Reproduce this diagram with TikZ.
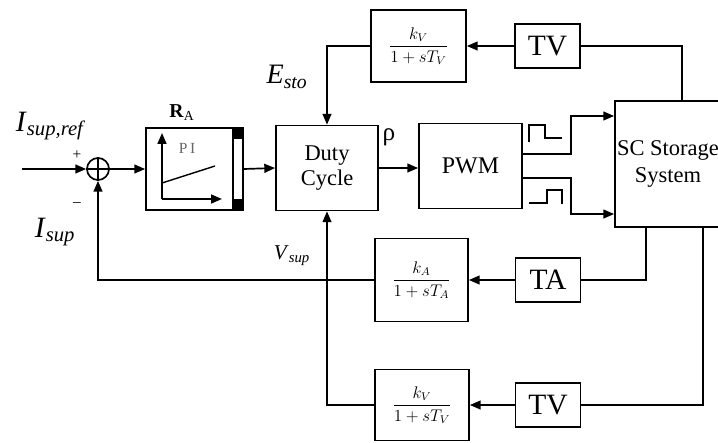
\documentclass[tikz,border=0pt]{standalone}
\usepackage{amsmath}
\usepackage{fontspec}
\setmainfont{Liberation Serif}
\usetikzlibrary{arrows.meta}

\tikzset{
  blk/.style={draw, line width=1.2pt, inner sep=0pt, align=center},
  frac/.style={blk, font=\fontsize{12}{14}\selectfont},
  meas/.style={blk, font=\fontsize{21}{24}\selectfont, minimum width=1.63cm, minimum height=1.1cm},
  lbl/.style={inner sep=0pt},
}

\begin{document}
\begin{tikzpicture}[x=0.025cm,y=-0.025cm,line width=1.2pt,>={Triangle[length=0.27cm,width=0.22cm]}]
\useasboundingbox (0,0) rectangle (718,442);

% forward path
\coordinate (in) at (22,169);
\node[draw,circle,minimum size=0.55cm,inner sep=0pt] (sum) at (98,169) {};
\draw[line width=1pt] (sum.north) -- (sum.south) (sum.west) -- (sum.east);
\node[blk,minimum width=2.425cm,minimum height=2.05cm] (PI) at (194.5,169) {};
\node[blk,minimum width=2.55cm,minimum height=2.125cm,font=\fontsize{16}{18}\selectfont] (Duty) at (327,168) {Duty\\Cycle};
\node[blk,minimum width=2.575cm,minimum height=2.125cm,font=\fontsize{17}{19}\selectfont] (PWM) at (470.5,166) {PWM};
\node[blk,minimum width=2.65cm,minimum height=3.15cm,font=\fontsize{16}{19}\selectfont] (SC) at (668,164) {SC Storage\\System};

% feedback blocks
\node[frac,minimum width=2.375cm,minimum height=1.8cm] (kVt) at (418.5,46) {$\dfrac{k_V}{1+sT_V}$};
\node[meas] (TVt) at (547.5,46) {TV};
\node[frac,minimum width=2.325cm,minimum height=2.075cm] (kA) at (421.5,280) {$\dfrac{k_A}{1+sT_A}$};
\node[meas] (TA) at (548,280) {TA};
\node[frac,minimum width=2.35cm,minimum height=1.775cm] (kVb) at (422,405) {$\dfrac{k_V}{1+sT_V}$};
\node[meas] (TVb) at (548,405) {TV};

% PI sketch
\draw (233,128) -- (233,210);
\fill (233,128) rectangle (243,139);
\fill (233,199) rectangle (243,210);
\draw[->] (162,199) -- (162,133);
\draw[->] (162,199) -- (222,199);
\draw[line width=1pt] (162,183) -- (215,166);
\node[lbl,text=black!60,font=\fontsize{11}{13}\selectfont] (PIlbl) at (187,148) {P\,I};

% labels
\node[lbl,font=\fontsize{14}{16}\selectfont] (RA) at (182,113) {\textbf{R}\textsubscript{A}};
\node[lbl,font=\fontsize{21}{23}\selectfont] (Iref) at (51,126) {\textit{I}\textsubscript{\textit{sup,ref}}};
\node[lbl,font=\fontsize{21}{23}\selectfont] (Isup) at (55,232) {\textit{I}\textsubscript{\textit{sup}}};
\node[lbl,font=\fontsize{11}{13}\selectfont] (plus) at (77,155) {+};
\node[lbl,font=\fontsize{11}{13}\selectfont] (minus) at (77,205) {--};
\node[lbl,font=\fontsize{20}{22}\selectfont] (Esto) at (287,77) {\textit{E}\textsubscript{\textit{sto}}};
\node[lbl,font=\fontsize{15}{17}\selectfont] (Vsup) at (292,256) {\textit{V}\textsubscript{\textit{sup}}};
\node[lbl,font=\fontsize{18}{20}\selectfont] (rho) at (389,137) {ρ};

% connectors
\draw[->] (in) -- (sum.west);
\draw[->] (sum.east) -- (PI.west);
\draw[->] (PI.east) -- (Duty.west);
\draw[->] (Duty.east) -- (Duty.east -| PWM.west);
\draw[->] ([yshift=0.3cm]PWM.east) -- ++(1.2cm,0) |- ([yshift=1.2cm]SC.west);
\draw[->] ([yshift=-0.3cm]PWM.east) -- ++(1.2cm,0) |- ([yshift=-1.25cm]SC.west);
\draw[->] (TVt) -- (kVt);
\draw[->] (TA) -- (kA);
\draw[->] (TVb) -- (kVb);
\draw (TVt.east) -| ([xshift=0.35cm]SC.north);
\draw (TA.east) -| ([xshift=-0.55cm]SC.south);
\draw (TVb.east) -| ([xshift=0.875cm]SC.south);
\draw[->] (kVt.west) -| (Duty.north);
\draw[->] (kVb.west) -| (Duty.south);
\draw[->] (kA.west) -| (sum.south);

% pulses
\draw[line width=1pt] (529,142) -- (529,125) -- (545,125) -- (545,138) -- (562,138);
\draw[line width=1pt] (529,203) -- (547,203) -- (547,190) -- (562,190) -- (562,204);
\end{tikzpicture}
\end{document}
